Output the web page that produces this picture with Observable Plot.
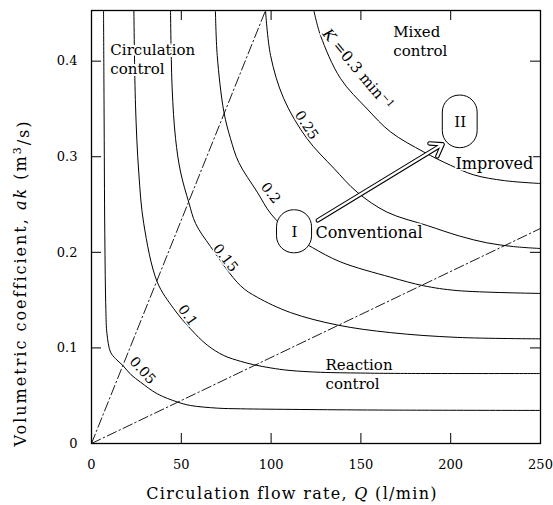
<!DOCTYPE html>
<html>
<head>
<meta charset="utf-8">
<script src="https://cdn.jsdelivr.net/npm/d3@7"></script>
<script src="https://cdn.jsdelivr.net/npm/@observablehq/plot@0.6"></script>
<style>
  body { margin: 0; background: #fff; }
  #chart svg { display: block; }
  #chart svg text { font-family: "DejaVu Serif", serif; }
</style>
</head>
<body>
<div id="chart"></div>
<script>
// Axis ticks
const xTicks = [0, 50, 100, 150, 200, 250];
const yTicks = [0, 0.1, 0.2, 0.3, 0.4];

// Iso-K curves: [Q (l/min), ak (m3/s)] for each overall rate constant K (1/min)
const curveK005 = [[6.7,0.453],[7.0,0.35],[7.4,0.22],[8.0,0.14],[8.6,0.115],[10.6,0.0956],[13.4,0.0887],[17.4,0.0817],[22,0.072],[27.3,0.0642],[36.6,0.052],[48,0.0433],[55,0.0398],[70,0.037],[83,0.0363],[116,0.0356],[160,0.035],[250,0.0346]];
const curveK010 = [[23.6,0.453],[24.5,0.354],[26.3,0.284],[29.1,0.230],[36.6,0.169],[45.8,0.141],[55.1,0.120],[64.4,0.103],[73.7,0.092],[83,0.086],[90.2,0.0825],[100,0.079],[110,0.0765],[127.5,0.0745],[150,0.0737],[172,0.0733],[250,0.0732]];
const curveK015 = [[44,0.453],[44.9,0.372],[46.8,0.319],[49.6,0.284],[54.2,0.252],[58,0.230],[66.3,0.206],[83,0.165],[92.3,0.153],[110.8,0.137],[136.8,0.124],[166.5,0.116],[203.6,0.111],[250,0.1095]];
const curveK020 = [[69,0.453],[70,0.406],[73.7,0.347],[77.4,0.319],[82,0.294],[92.3,0.263],[100,0.240],[112,0.218],[123,0.205],[138.6,0.190],[166.5,0.174],[185,0.165],[203.6,0.160],[250,0.157]];
const curveK025 = [[96.9,0.453],[99.7,0.406],[107,0.361],[120,0.319],[134.9,0.288],[147.9,0.263],[164.6,0.242],[187,0.228],[205,0.217],[220,0.210],[235,0.206],[250,0.204]];
const curveK030 = [[123.8,0.453],[127.5,0.427],[138.6,0.382],[153.5,0.350],[166.5,0.326],[185,0.305],[200,0.291],[212.9,0.281],[230,0.275],[250,0.272]];
const isoCurves = [curveK005, curveK010, curveK015, curveK020, curveK025, curveK030];

// Regime boundaries (dash-dot)
const boundaryCirculation = [[0,0],[96.9,0.453]];
const boundaryReaction = [[0,0],[250,0.225]];

// Curve value labels
const curveLabelText = ["0.05", "0.1", "0.15", "0.2", "0.25"];
const curveLabelQ = [28.4, 53.5, 74.6, 99.7, 119.7];
const curveLabelAk = [0.0764, 0.134, 0.194, 0.262, 0.333];
const curveLabelAngle = [48, 55, 52, 52, 57];
const kLabel = {Q: 148.7, ak: 0.391, angle: 50};

// Regime annotations (one entry per line of text)
const regionText = ["Circulation", "control", "Mixed", "control", "Reaction", "control"];
const regionQ = [10.5, 10.5, 168, 168, 130.3, 130.3];
const regionAk = [0.418, 0.398, 0.4365, 0.4165, 0.0879, 0.0679];

// Operating points
const boxLabel = ["I", "II"];
const boxQ1 = [103.3, 195.6];
const boxQ2 = [122.8, 215];
const boxAk1 = [0.199, 0.309];
const boxAk2 = [0.244, 0.364];
const boxCenterQ = [113, 205.3];
const boxCenterAk = [0.2215, 0.3365];
const pointText = ["Conventional", "Improved"];
const pointTextQ = [124.7, 202.7];
const pointTextAk = [0.220, 0.293];

// Upgrade arrow from I to II
const arrowFrom = [126, 0.2335];
const arrowTo = [195.5, 0.313];

const serif = "DejaVu Serif";
const innerW = 553 - 91 - 13;
const innerH = 505 - 10 - 62;
const tickLen = 10;

const boxes = boxLabel.map((t, i) => ({t, x1: boxQ1[i], x2: boxQ2[i], y1: boxAk1[i], y2: boxAk2[i], cx: boxCenterQ[i], cy: boxCenterAk[i]}));
const curveLabels = curveLabelText.map((t, i) => ({t, x: curveLabelQ[i], y: curveLabelAk[i], a: curveLabelAngle[i]}));
const regions = regionText.map((t, i) => ({t, x: regionQ[i], y: regionAk[i]}));
const points = pointText.map((t, i) => ({t, x: pointTextQ[i], y: pointTextAk[i]}));
const arrow = [{x1: arrowFrom[0], y1: arrowFrom[1], x2: arrowTo[0], y2: arrowTo[1]}];
const innerX = xTicks.filter(d => d > 0 && d < 250);
const innerY = yTicks.filter(d => d > 0);

const plot = Plot.plot({
  width: 553,
  height: 505,
  marginLeft: 91,
  marginRight: 13,
  marginTop: 10,
  marginBottom: 62,
  x: {domain: [0, 250]},
  y: {domain: [0, 0.453]},
  style: {fontFamily: "'DejaVu Serif', serif", fontSize: "13px", background: "white", color: "black"},
  marks: [
    Plot.axisX({ticks: xTicks, tickSize: 0, tickPadding: 16, tickFormat: d => String(d), label: null, fontFamily: serif, fontSize: 13}),
    Plot.axisY({ticks: yTicks, tickSize: 0, tickPadding: 14, tickFormat: d => d === 0 ? "0" : d.toFixed(1), label: null, fontFamily: serif, fontSize: 13}),
    // inward tick marks on all four sides
    Plot.ruleX(innerX, {x: d => d, insetTop: innerH - tickLen, stroke: "black"}),
    Plot.ruleX(innerX, {x: d => d, insetBottom: innerH - tickLen, stroke: "black"}),
    Plot.ruleY(innerY, {y: d => d, insetRight: innerW - tickLen, stroke: "black"}),
    Plot.ruleY(innerY, {y: d => d, insetLeft: innerW - tickLen, stroke: "black"}),
    // iso-K curves
    ...isoCurves.map(c => Plot.line(c, {x: d => d[0], y: d => d[1], curve: "catmull-rom", stroke: "black", strokeWidth: 1})),
    // regime boundaries
    ...[boundaryCirculation, boundaryReaction].map(b => Plot.line(b, {x: d => d[0], y: d => d[1], stroke: "black", strokeWidth: 0.9, strokeDasharray: "10,3,1.5,3"})),
    // hollow arrow: dark outline then white core
    Plot.arrow(arrow, {x1: "x1", y1: "y1", x2: "x2", y2: "y2", stroke: "black", strokeWidth: 4.5, headLength: 4.4, headAngle: 70}),
    Plot.arrow(arrow, {x1: "x1", y1: "y1", x2: "x2", y2: "y2", stroke: "white", strokeWidth: 2.3, headLength: 8.6, headAngle: 70}),
    // operating point capsules
    Plot.rect(boxes, {x1: "x1", x2: "x2", y1: "y1", y2: "y2", rx: 17, fill: "white", stroke: "black", strokeWidth: 1}),
    Plot.text(boxes, {x: "cx", y: "cy", text: "t", fontFamily: serif, fontSize: 15, fontWeight: d => d.t === "II" ? "bold" : "normal", fill: "black"}),
    // curve values
    Plot.text(curveLabels, {x: "x", y: "y", text: "t", rotate: "a", fontFamily: serif, fontSize: 14, fill: "black", stroke: "white", strokeWidth: 3}),
    // regime and point annotations
    Plot.text(regions, {x: "x", y: "y", text: "t", textAnchor: "start", lineAnchor: "top", fontFamily: serif, fontSize: 15, fill: "black", stroke: "white", strokeWidth: 4}),
    Plot.text(points, {x: "x", y: "y", text: "t", textAnchor: "start", fontFamily: serif, fontSize: 16, fill: "black", stroke: "white", strokeWidth: 3}),
    Plot.frame({stroke: "black", strokeWidth: 1.3})
  ]
});

const svg = d3.select(plot);
const sx = plot.scale("x"), sy = plot.scale("y");

// K = 0.3 min^-1 label along the outermost curve
const kt = svg.append("text")
  .attr("transform", `translate(${sx.apply(kLabel.Q)},${sy.apply(kLabel.ak)}) rotate(${kLabel.angle})`)
  .attr("text-anchor", "middle")
  .attr("dy", "0.35em")
  .attr("font-family", serif)
  .attr("font-size", 15)
  .attr("fill", "black")
  .attr("stroke", "white").attr("stroke-width", 3).attr("paint-order", "stroke");
kt.append("tspan").attr("font-style", "italic").text("K");
kt.append("tspan").text(" =0.3 min");
kt.append("tspan").attr("font-size", 10).attr("dy", "-0.5em").text("−1");

// Axis titles
const xt = svg.append("text")
  .attr("x", 292).attr("y", 499)
  .attr("text-anchor", "middle")
  .attr("letter-spacing", 1.3)
  .attr("font-family", serif).attr("font-size", 16).attr("fill", "black");
xt.append("tspan").text("Circulation flow rate, ");
xt.append("tspan").attr("font-style", "italic").text("Q");
xt.append("tspan").text(" (l/min)");

const yt = svg.append("text")
  .attr("transform", "translate(26,283) rotate(-90)")
  .attr("text-anchor", "middle")
  .attr("letter-spacing", 2)
  .attr("font-family", serif).attr("font-size", 16).attr("fill", "black");
yt.append("tspan").text("Volumetric coefficient, ");
yt.append("tspan").attr("font-style", "italic").text("ak");
yt.append("tspan").text(" (m");
yt.append("tspan").attr("font-size", 11).attr("dy", "-0.5em").text("3");
yt.append("tspan").attr("dy", "0.5em").text("/s)");

document.getElementById("chart").appendChild(plot);
</script>
</body>
</html>
